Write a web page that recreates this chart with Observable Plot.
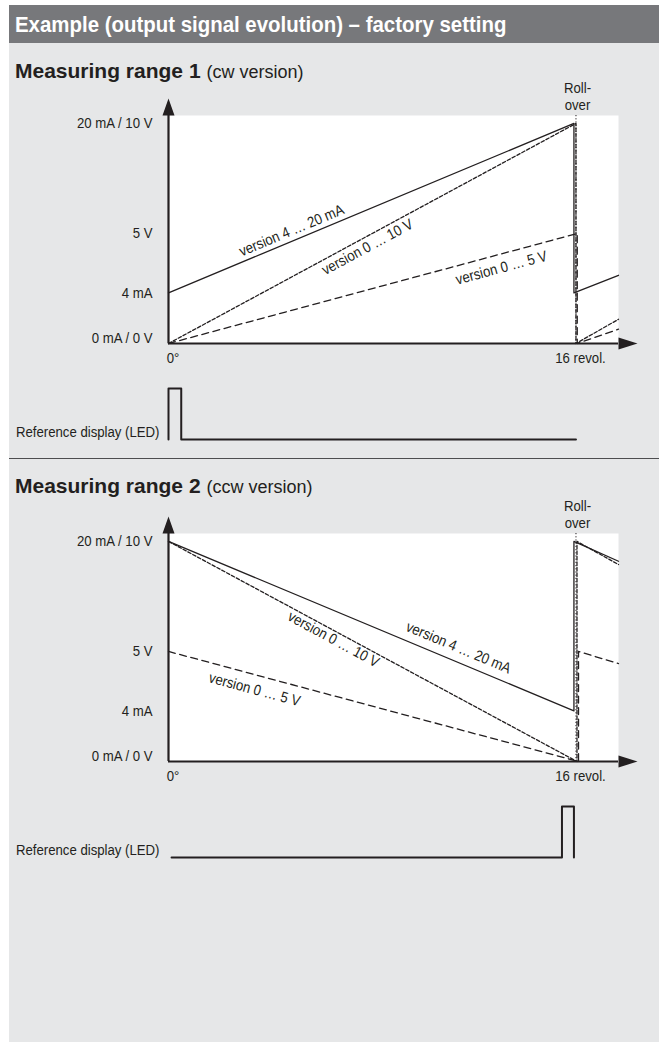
<!DOCTYPE html>
<html>
<head>
<meta charset="utf-8">
<script src="https://cdn.jsdelivr.net/npm/d3@7"></script>
<script src="https://cdn.jsdelivr.net/npm/@observablehq/plot@0.6"></script>
<style>
  body { margin: 0; background: #ffffff; }
  #page { position: absolute; left: 9px; top: 5px; width: 650px; height: 1037px; background: #e6e7e8; overflow: hidden;
          font-family: "Liberation Sans", Arimo, Arial, sans-serif; color: #231f20; }
  .header { position: absolute; left: 0; top: 0; width: 650px; height: 38px; background: #77787b; color: #ffffff;
            font-weight: bold; font-size: 21.5px; line-height: 41px; padding-left: 6px; box-sizing: border-box; white-space: nowrap; overflow: hidden; }
  .header span { display: inline-block; transform: scaleX(0.95); transform-origin: 0 0; }
  .title { position: absolute; left: 6px; font-size: 21px; font-weight: bold; line-height: 21px; white-space: nowrap; }
  .title span { font-weight: normal; font-size: 18px; }
  .sep { position: absolute; left: 0; width: 650px; height: 0; border-top: 1.5px solid #4d4d4f; }
  .plot { position: absolute; left: 0; }
</style>
</head>
<body>
<div id="page">
  <div class="header"><span>Example (output signal evolution) – factory setting</span></div>
  <div class="title" style="top:55px">Measuring range 1 <span>(cw version)</span></div>
  <div class="plot" id="sig1" style="top:78px"></div>
  <div class="plot" id="led1" style="top:368px"></div>
  <div class="sep" style="top:453px"></div>
  <div class="title" style="top:470px">Measuring range 2 <span>(ccw version)</span></div>
  <div class="plot" id="sig2" style="top:496px"></div>
  <div class="plot" id="led2" style="top:786px"></div>
</div>
<script>
// ---- axis ticks / labels ----
const xTicks = [0, 16];
const xTickLabels = ["0°", "16 revol."];
const yTicks = [0, 0.23, 0.5, 1];
const yTickLabels = ["0 mA / 0 V", "4 mA", "5 V", "20 mA / 10 V"];
const rollover = 16;
const rolloverLabel = "Roll-\nover";
const ledLabel = "Reference display (LED)";
const seriesNames = ["version 4 … 20 mA", "version 0 … 10 V", "version 0 … 5 V"];
const xMax = 17.67;   // visible revolutions
const yMax = 1.036;   // visible signal (fraction of full scale)

// ---- Measuring range 1 (cw) ----
const cw420Rev = [0, 15.92, 15.92, 17.67];
const cw420Val = [0.23, 1, 0.23, 0.31];
const cw010Rev = [0, 16, 16, 17.67];
const cw010Val = [0, 1, 0, 0.11];
const cw05Rev  = [0, 16.05, 16.05, 17.67];
const cw05Val  = [0, 0.5, 0, 0.065];
const cwLedRev   = [0, 0, 0.5, 0.5, 16];
const cwLedState = [0, 1, 1, 0, 0];

// ---- Measuring range 2 (ccw) ----
const ccw420Rev = [0, 15.92, 15.92, 17.67];
const ccw420Val = [1, 0.23, 1, 0.91];
const ccw010Rev = [0, 16.04, 16.04, 17.67];
const ccw010Val = [1, 0, 1, 0.895];
const ccw05Rev  = [0, 16.1, 16.1, 17.67];
const ccw05Val  = [0.5, 0, 0.5, 0.445];
const ccwLedRev   = [0.12, 15.45, 15.45, 15.92, 15.92];
const ccwLedState = [0, 0, 1, 1, 0];

// ---- layout ----
const W = 650, ML = 159, MR = 41;
const SH = 290, SMT = 32, SMB = 30;
const LH = 85, LMT = 15, LMB = 19;
const INK = "#231f20";
const FONT = '"Liberation Sans", Arimo, Arial, sans-serif';
const FS = 15;          // small text size
const NARROW = 0.88;    // horizontal condensing of small text
const kx = (W - ML - MR) / xMax;
const ky = (SH - SMT - SMB) / yMax;

const rows = (revs, vals) => revs.map((r, i) => ({rev: r, v: vals[i]}));
const angleOf = (revs, vals) => Math.atan2(-(vals[1] - vals[0]) * ky, (revs[1] - revs[0]) * kx) * 180 / Math.PI;
const valAt = (revs, vals, r) => vals[0] + (vals[1] - vals[0]) * (r - revs[0]) / (revs[1] - revs[0]);

const arrowUp = {draw(c) { c.moveTo(0, -8.5); c.lineTo(6, 8.5); c.lineTo(-6, 8.5); c.closePath(); }};
const arrowRight = {draw(c) { c.moveTo(9.5, 0); c.lineTo(-9.5, 6); c.lineTo(-9.5, -6); c.closePath(); }};
const yLabelOf = new Map(yTicks.map((t, i) => [t, yTickLabels[i]]));
const xLabelOf = new Map(xTicks.map((t, i) => [t, xTickLabels[i]]));

function condense(svg) {
  svg.querySelectorAll("text").forEach(t => {
    const tr = t.getAttribute("transform");
    if (tr) t.setAttribute("transform", tr + ` scale(${NARROW},1)`);
  });
  return svg;
}

function signalPlot(series, labels, skew) {
  const dashes = [null, "3.5,2", "7,4.5"];
  const marks = [
    Plot.frame({fill: "white", stroke: "none"}),
    ...series.map(([revs, vals], i) => Plot.line(rows(revs, vals), {x: "rev", y: "v", stroke: INK, strokeWidth: 1.3, strokeDasharray: dashes[i]})),
    Plot.ruleX([rollover], {stroke: INK, strokeWidth: 1, strokeDasharray: "1.2,2"}),
    Plot.ruleY([0], {stroke: INK, strokeWidth: 2.2}),
    Plot.ruleX([0], {stroke: INK, strokeWidth: 2.2}),
    Plot.dot([0], {x: d => d, frameAnchor: "top", dy: -8.5, symbol: arrowUp, fill: INK, stroke: "none"}),
    Plot.dot([0], {y: d => d, frameAnchor: "right", dx: 9.5, symbol: arrowRight, fill: INK, stroke: "none"}),
    Plot.axisY({ticks: yTicks.filter(t => t !== 0), tickFormat: t => yLabelOf.get(t), tickSize: 0, tickPadding: 16, fontSize: FS, label: null}),
    Plot.axisY({ticks: [0], tickFormat: t => yLabelOf.get(t), tickSize: 0, tickPadding: 16, fontSize: FS, dy: -5, label: null}),
    Plot.axisX({ticks: xTicks, tickFormat: t => xLabelOf.get(t), tickSize: 0, tickPadding: 9, fontSize: FS, dx: 4.5, label: null}),
    Plot.text([{rev: rollover, t: rolloverLabel}], {x: "rev", text: "t", frameAnchor: "top", lineAnchor: "bottom", dy: -6, dx: 1.5, lineHeight: 1.1, fontSize: FS}),
    ...labels.map(({i, rev, dy}) => {
      const [revs, vals] = series[i];
      return Plot.text([{rev, v: valAt(revs, vals, rev), t: seriesNames[i]}], {
        x: "rev", y: "v", text: "t", rotate: angleOf(revs, vals), dy, fontSize: FS, fill: INK,
        ariaLabel: skew ? "skew-label" : "label"
      });
    })
  ];
  const svg = Plot.plot({
    width: W, height: SH, marginLeft: ML, marginRight: MR, marginTop: SMT, marginBottom: SMB,
    x: {domain: [0, xMax], axis: null},
    y: {domain: [0, yMax], axis: null},
    style: {fontFamily: FONT, fontSize: FS + "px", color: INK, background: "transparent", overflow: "visible"},
    marks
  });
  if (skew) {
    svg.querySelectorAll('g[aria-label="skew-label"] text').forEach(t => {
      const tr = t.getAttribute("transform");
      if (tr) t.setAttribute("transform", tr.replace("rotate(", "skewY("));
    });
  }
  return condense(svg);
}

function ledPlot(revs, states) {
  return condense(Plot.plot({
    width: W, height: LH, marginLeft: ML, marginRight: MR, marginTop: LMT, marginBottom: LMB,
    x: {domain: [0, xMax], axis: null},
    y: {domain: [0, 1], axis: null},
    style: {fontFamily: FONT, fontSize: FS + "px", color: INK, background: "transparent", overflow: "visible"},
    marks: [
      Plot.line(revs.map((r, i) => ({rev: r, s: states[i]})), {x: "rev", y: "s", stroke: INK, strokeWidth: 2}),
      Plot.axisY({ticks: [0], tickFormat: () => ledLabel, tickSize: 0, tickPadding: 9, fontSize: FS, dy: -7, label: null})
    ]
  }));
}

document.getElementById("sig1").append(signalPlot(
  [[cw420Rev, cw420Val], [cw010Rev, cw010Val], [cw05Rev, cw05Val]],
  [{i: 0, rev: 4.83, dy: -11}, {i: 1, rev: 7.81, dy: 11}, {i: 2, rev: 13.07, dy: 14}], false));
document.getElementById("led1").append(ledPlot(cwLedRev, cwLedState));
document.getElementById("sig2").append(signalPlot(
  [[ccw420Rev, ccw420Val], [ccw010Rev, ccw010Val], [ccw05Rev, ccw05Val]],
  [{i: 0, rev: 11.39, dy: -15}, {i: 1, rev: 6.48, dy: 9}, {i: 2, rev: 3.38, dy: 15}], true));
document.getElementById("led2").append(ledPlot(ccwLedRev, ccwLedState));
</script>
</body>
</html>
